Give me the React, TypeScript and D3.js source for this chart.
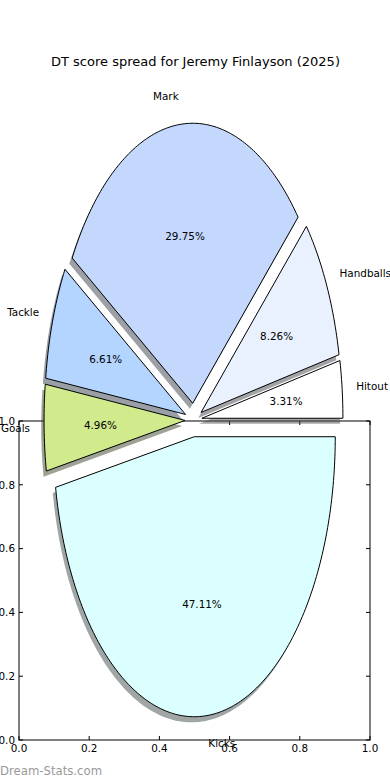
import React from 'react';
import * as d3 from 'd3';

// slices in matplotlib order (counter-clockwise from 3 o'clock)
const categories = ['Hitout', 'Handballs', 'Mark', 'Tackle', 'Goals', 'Kicks'];
const counts = [4, 10, 36, 8, 6, 57];
const sliceColors = ['#ffffff', '#eaf1fe', '#c4d8fe', '#b3d5ff', '#d0ea8c', '#dbffff'];
const axisTicks = [0, 0.2, 0.4, 0.6, 0.8, 1.0];
const title = 'DT score spread for Jeremy Finlayson (2025)';

const W = 390;
const H = 780;
const FONT = 'DejaVu Sans, sans-serif';

const explode = 0.06;
const labelDistance = 1.1;
const pctDistance = 0.6;

export default function App() {
  // pie data space is [-1, 1] in both directions, stretched to the page
  const px = d3.scaleLinear().domain([-1, 1]).range([193.5 - 141, 193.5 + 141]);
  const py = d3.scaleLinear().domain([-1, 1]).range([420 + 280, 420 - 280]);

  // background axes box
  const ax = d3.scaleLinear().domain([0, 1]).range([19, 370]);
  const ay = d3.scaleLinear().domain([0, 1]).range([740, 421]);

  const total = d3.sum(counts);
  const arcs = d3.pie<number>().sort(null).startAngle(0).endAngle(2 * Math.PI)(counts);
  const pctFmt = d3.format('.2f');

  const wedgePath = (a: any, dx: number, dy: number) => {
    const m = (a.startAngle + a.endAngle) / 2;
    const ox = explode * Math.cos(m) + dx;
    const oy = explode * Math.sin(m) + dy;
    const n = Math.max(8, Math.ceil(((a.endAngle - a.startAngle) * 180) / Math.PI));
    const pts: [number, number][] = [[ox, oy]];
    d3.range(n + 1).forEach((i) => {
      const t = a.startAngle + ((a.endAngle - a.startAngle) * i) / n;
      pts.push([ox + Math.cos(t), oy + Math.sin(t)]);
    });
    const line = d3.line<[number, number]>().x((d) => px(d[0])).y((d) => py(d[1]));
    return line(pts) + 'Z';
  };

  const shade = (c: string) => {
    const rgb = d3.rgb(c);
    return d3.rgb(rgb.r * 0.3, rgb.g * 0.3, rgb.b * 0.3).toString();
  };

  const tl = 4;

  return (
    <div style={{ position: 'absolute', left: 0, top: 0 }}>
      <svg width={W} height={H} style={{ display: 'block', background: '#fff' }} fontFamily={FONT}>
        <text x={195.5} y={65.5} fontSize={13} textAnchor="middle" fill="#000">
          {title}
        </text>

        {/* axes frame with inward ticks */}
        <rect x={ax(0)} y={ay(1)} width={ax(1) - ax(0)} height={ay(0) - ay(1)} fill="none" stroke="#000" strokeWidth={1} />
        {axisTicks.map((t) => (
          <g key={'t' + t}>
            <line x1={ax(t)} x2={ax(t)} y1={ay(0)} y2={ay(0) - tl} stroke="#000" />
            <line x1={ax(t)} x2={ax(t)} y1={ay(1)} y2={ay(1) + tl} stroke="#000" />
            <line x1={ax(0)} x2={ax(0) + tl} y1={ay(t)} y2={ay(t)} stroke="#000" />
            <line x1={ax(1)} x2={ax(1) - tl} y1={ay(t)} y2={ay(t)} stroke="#000" />
            <text x={ax(t)} y={ay(0) + 11.5} fontSize={10.4} textAnchor="middle">
              {t.toFixed(1)}
            </text>
            <text x={ax(0) - 4} y={ay(t) + 3.8} fontSize={10.4} textAnchor="end">
              {t.toFixed(1)}
            </text>
          </g>
        ))}

        {/* shadows sit under every wedge */}
        {arcs.map((a, i) => (
          <path key={'s' + i} d={wedgePath(a, -0.02, -0.02)} fill={shade(sliceColors[i])} fillOpacity={0.5} />
        ))}
        {arcs.map((a, i) => (
          <path key={'w' + i} d={wedgePath(a, 0, 0)} fill={sliceColors[i]} stroke="#000" strokeWidth={1} strokeLinejoin="miter" />
        ))}

        {arcs.map((a, i) => {
          const m = (a.startAngle + a.endAngle) / 2;
          const ox = explode * Math.cos(m);
          const oy = explode * Math.sin(m);
          const lx = ox + labelDistance * Math.cos(m);
          const ly = oy + labelDistance * Math.sin(m);
          const qx = ox + pctDistance * Math.cos(m);
          const qy = oy + pctDistance * Math.sin(m);
          return (
            <g key={'l' + i} fontSize={10.4}>
              <text x={px(lx)} y={py(ly)} dy="0.36em" textAnchor={lx > 0 ? 'start' : 'end'}>
                {categories[i]}
              </text>
              <text x={px(qx)} y={py(qy)} dy="0.36em" textAnchor="middle">
                {pctFmt((counts[i] / total) * 100) + '%'}
              </text>
            </g>
          );
        })}

        <text x={0} y={775} fontSize={11.7} fill="#999">
          Dream-Stats.com
        </text>
      </svg>
    </div>
  );
}
